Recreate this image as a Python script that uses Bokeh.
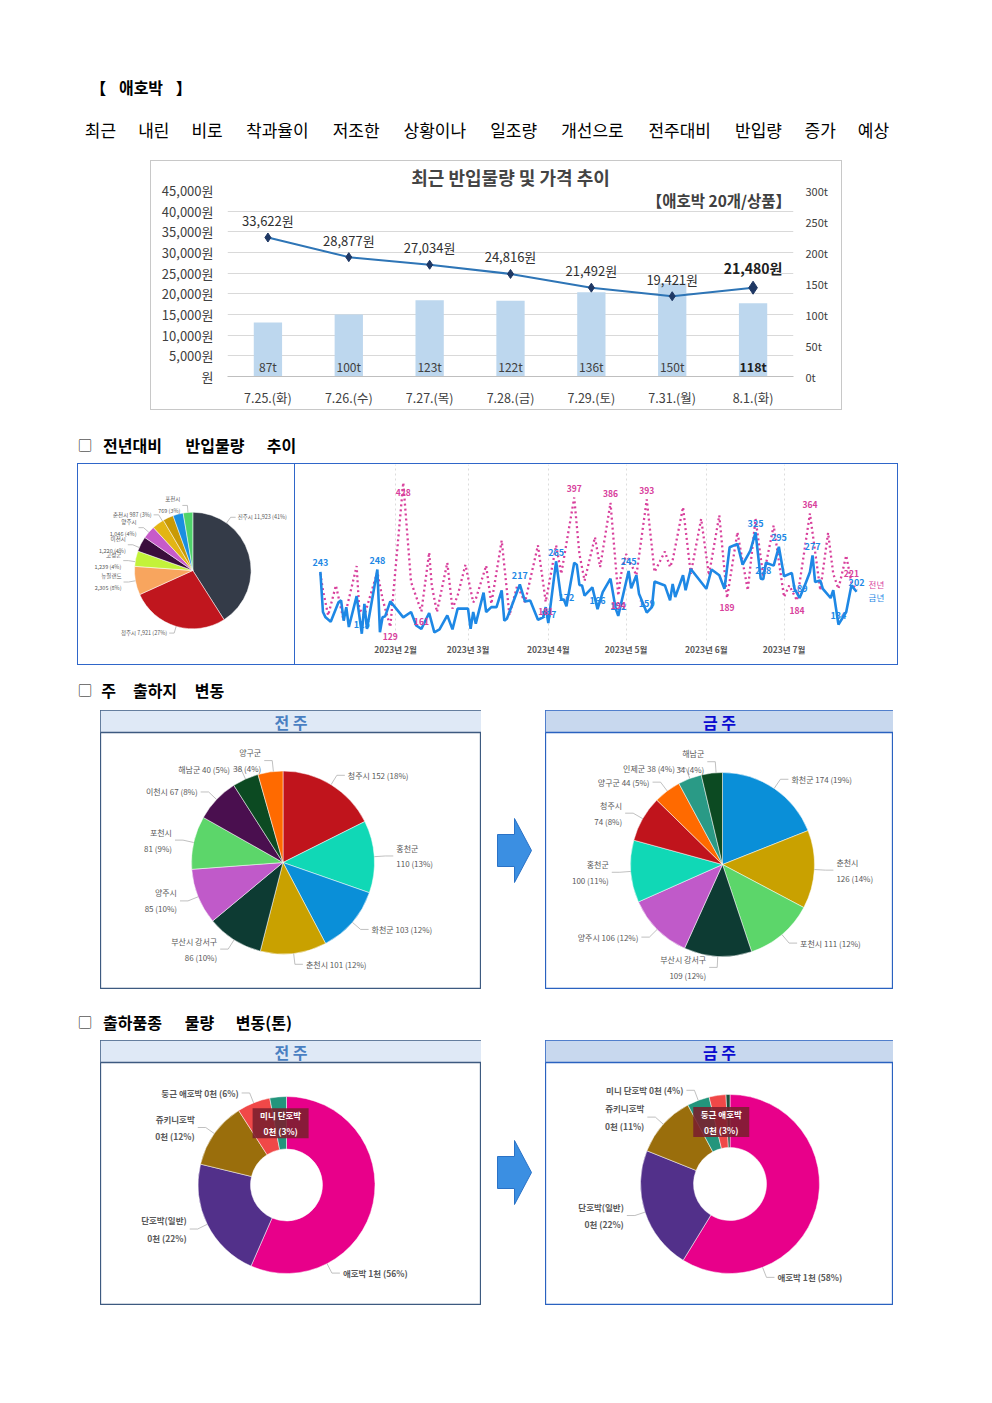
import numpy as np
from bokeh.plotting import figure
from bokeh.models import Range1d, LinearAxis, FixedTicker, ColumnDataSource, Spacer, Label, Title
from bokeh.layouts import column, row
from bokeh.core.properties import value
from bokeh.embed import file_html
from bokeh.resources import INLINE

FONT = "Noto Sans CJK KR"

# ------------------------------------------------------------------ data
HEADER_TITLE = "【 애호박 】"
HEADER_TEXT = "최근 내린 비로 착과율이 저조한 상황이나 일조량 개선으로 전주대비 반입량 증가 예상"

COMBO_TITLE = "최근 반입물량 및 가격 추이"
COMBO_NOTE = "【애호박 20개/상품】"
COMBO_DATES = ["7.25.(화)", "7.26.(수)", "7.27.(목)", "7.28.(금)", "7.29.(토)", "7.31.(월)", "8.1.(화)"]
COMBO_VOLUME_T = [87, 100, 123, 122, 136, 150, 118]
COMBO_PRICE_WON = [33622, 28877, 27034, 24816, 21492, 19421, 21480]
PRICE_TICKS = [0, 5000, 10000, 15000, 20000, 25000, 30000, 35000, 40000, 45000]
VOLUME_TICKS = [0, 50, 100, 150, 200, 250, 300]

SECTION_TITLES = ["▢ 전년대비 반입물량 추이", "▢ 주 출하지 변동", "▢ 출하품종 물량 변동(톤)"]

ORIGIN_NAMES = ["진주시", "청주시", "뉴질랜드", "고성군", "이천시", "양주시", "춘천시", "", "", "포천시"]
ORIGIN_VALUES = [11923, 7921, 2305, 1239, 1220, 1046, 987, 850, 830, 769]

MONTH_TICKS = [31, 59, 90, 120, 151, 181]          # day of year (0 = 1 Jan)
MONTH_LABELS = ["2023년 2월", "2023년 3월", "2023년 4월", "2023년 5월", "2023년 6월", "2023년 7월"]
SERIES_NAMES = ["전년", "금년"]

THIS_YEAR_DAY = [2, 3, 4, 6, 9, 10, 11, 12, 13, 16, 18, 19, 20, 24, 25, 26, 27, 29, 34, 37, 39, 41,
                 44, 46, 48, 51, 53, 55, 59, 60, 61, 62, 65, 66, 68, 70, 72, 73, 74, 79, 81, 83, 86,
                 88, 89, 90, 93, 95, 96, 97, 100, 101, 102, 103, 104, 107, 109, 111, 114, 116, 117,
                 121, 122, 124, 125, 128, 130, 131, 135, 137, 138, 139, 142, 143, 145, 151, 153, 156,
                 158, 160, 163, 165, 168, 170, 172, 173, 174, 177, 179, 181, 184, 185, 187, 189, 191,
                 192, 193, 195, 196, 199, 200, 202, 205, 207, 209]
THIS_YEAR_T = [243, 160, 149, 140, 180, 184, 142, 170, 129, 193, 115, 177, 125, 248, 118, 149, 151, 182,
               149, 160, 132, 125, 158, 118, 124, 153, 124, 167, 167, 125, 160, 136, 200, 160, 170, 170,
               205, 142, 146, 217, 182, 184, 144, 149, 170, 137, 265, 186, 186, 172, 262, 258, 216, 215,
               194, 211, 166, 201, 229, 167, 152, 245, 209, 236, 198, 159, 170, 223, 215, 184, 218, 191,
               236, 205, 249, 208, 248, 236, 208, 294, 301, 258, 287, 325, 229, 228, 262, 256, 295, 234,
               241, 209, 189, 215, 243, 277, 222, 225, 208, 189, 205, 134, 160, 215, 202]
THIS_YEAR_LABEL_DAYS = [2, 18, 24, 79, 90, 93, 97, 109, 117, 121, 128, 170, 173, 179, 187, 192, 202, 209]

LAST_YEAR_DAY = [2, 3, 5, 8, 11, 16, 17, 19, 24, 26, 29, 34, 37, 41, 44, 45, 47, 51, 53, 55, 58, 61, 62,
                 66, 68, 72, 75, 78, 81, 86, 89, 93, 95, 100, 102, 104, 108, 110, 114, 117, 118, 120,
                 124, 128, 131, 135, 137, 138, 142, 145, 149, 152, 156, 159, 163, 167, 170, 173, 177,
                 181, 183, 186, 191, 195, 198, 200, 202, 205, 207, 209]
LAST_YEAR_T = [240, 205, 153, 215, 142, 255, 167, 153, 243, 187, 129, 428, 222, 161, 283, 215, 160, 262,
               167, 194, 258, 180, 187, 256, 177, 308, 153, 215, 180, 298, 181, 298, 239, 397, 280, 225,
               315, 253, 386, 194, 236, 280, 236, 393, 243, 285, 253, 267, 377, 239, 353, 236, 360, 189,
               325, 205, 353, 232, 339, 191, 215, 184, 364, 205, 324, 239, 208, 277, 221, 205]
LAST_YEAR_LABEL_DAYS = [29, 34, 41, 89, 100, 114, 117, 128, 159, 186, 191, 207]
LAST_YEAR_LABEL_BELOW = [True, True, True, True, False, False, True, False, True, True, False, False]

PANEL_TITLES = ["전 주", "금 주"]
PREV_WEEK_NAMES = ["청주시", "홍천군", "화천군", "춘천시", "부산시 강서구", "양주시", "포천시", "이천시", "해남군", "양구군"]
PREV_WEEK_VALUES = [152, 110, 103, 101, 86, 85, 81, 67, 40, 38]
THIS_WEEK_NAMES = ["화천군", "춘천시", "포천시", "부산시 강서구", "양주시", "홍천군", "청주시", "양구군", "인제군", "해남군"]
THIS_WEEK_VALUES = [174, 126, 111, 109, 106, 100, 74, 44, 38, 34]

VARIETY_PREV_NAMES = ["애호박", "단호박(일반)", "쥬키니호박", "둥근 애호박", "미니 단호박"]
VARIETY_PREV_SHARE = [56, 22, 12, 6, 3]
VARIETY_PREV_AMOUNT = ["1천", "0천", "0천", "0천", "0천"]
VARIETY_THIS_NAMES = ["애호박", "단호박(일반)", "쥬키니호박", "미니 단호박", "둥근 애호박", ""]
VARIETY_THIS_SHARE = [58, 22, 11, 4, 3, 0.7]
VARIETY_THIS_AMOUNT = ["1천", "0천", "0천", "0천", "0천", ""]

# ------------------------------------------------------------------ styles
ORIGIN_COLORS = ["#343b48", "#c0161e", "#f8a55e", "#c3f23a", "#3a0d3c", "#c75bc9", "#e3b514",
                 "#c99a06", "#1a8fe0", "#4fd36a"]
REGION_COLORS = {"청주시": "#c0141c", "홍천군": "#10d8b6", "화천군": "#0a8fd8", "춘천시": "#c9a100",
                 "부산시 강서구": "#0d3b33", "양주시": "#c05ac9", "포천시": "#5cd66a", "이천시": "#4a0f4f",
                 "해남군": "#0c4a22", "양구군": "#ff6a00", "인제군": "#2a9a86"}
VARIETY_COLORS = {"애호박": "#e8008a", "단호박(일반)": "#52308a", "쥬키니호박": "#9a6e0c",
                  "둥근 애호박": "#f04848", "미니 단호박": "#23957c", "": "#1d4d3a"}
PREV_BREAK = [False, True, False, False, True, True, True, False, False, True]
THIS_BREAK = [False, True, False, True, False, True, True, False, False, True]


def blank(w, h):
    p = figure(width=w, height=h, x_range=Range1d(0, w), y_range=Range1d(h, 0),
               output_backend="svg", toolbar_location=None, min_border=0,
               x_axis_location=None, y_axis_location=None)
    p.grid.visible = False
    p.outline_line_color = None
    p.background_fill_color = None
    p.border_fill_color = None
    return p


def txt(p, x, y, s, size, color="#000000", bold=False, align="left"):
    p.text(x=[x], y=[y], text=[s], text_font=value(FONT), text_font_size=f"{size}px",
           text_color=color, text_font_style="bold" if bold else "normal",
           text_align=align, text_baseline="middle")


def word_width(w, fs):
    t = 0.0
    for ch in w:
        if "\uac00" <= ch <= "\ud7a3":
            t += fs
        elif ch in "()":
            t += 0.35 * fs
        else:
            t += 0.6 * fs
    return t


def justify(p, words, x0, x1, y, fs, bold=False):
    widths = [word_width(w, fs) for w in words]
    gap = (x1 - x0 - sum(widths)) / max(1, len(words) - 1)
    x = x0
    for w, wd in zip(words, widths):
        txt(p, x + wd / 2, y, w, fs, bold=bold, align="center")
        x += wd + gap


def section(h, title, x_end, y):
    # layout coordinates are page coordinates minus the 8px page margin
    p = blank(976, h)
    mark, rest = title.split(" ", 1)
    txt(p, 70, y, mark, 13, bold=True)
    justify(p, rest.split(" "), 92, x_end - 8, y, 16, bold=True)
    return p


def hline(w, color):
    return Spacer(width=w, height=1, styles={"background-color": color})


def vline(h, color):
    return Spacer(width=1, height=h, styles={"background-color": color})


def plain_axis(ax, size, standoff, color="#404040"):
    ax.major_tick_line_color = None
    ax.minor_tick_line_color = None
    ax.major_tick_out = 0
    ax.major_tick_in = 0
    ax.minor_tick_out = 0
    ax.major_label_text_font = FONT
    ax.major_label_text_font_size = size
    ax.major_label_text_color = color
    ax.major_label_standoff = standoff


# ------------------------------------------------------------------ header
header = blank(976, 152)
justify(header, HEADER_TITLE.split(" "), 85, 180, 78, 16, bold=True)
justify(header, HEADER_TEXT.split(" "), 75, 882, 121, 17)

# ------------------------------------------------------------------ combo chart
combo = figure(width=690, height=248, x_range=Range1d(0, 7), y_range=Range1d(0, 45000),
               output_backend="svg", toolbar_location=None,
               min_border_left=76, min_border_right=48, min_border_top=27, min_border_bottom=31)
combo.outline_line_color = None
combo.xgrid.visible = False
combo.ygrid.grid_line_color = "#d9d9d9"
combo.yaxis.ticker = FixedTicker(ticks=PRICE_TICKS)
combo.yaxis.major_label_overrides = {v: (f"{v:,}원" if v else "원") for v in PRICE_TICKS}
xs = [i + 0.5 for i in range(len(COMBO_DATES))]
combo.xaxis.ticker = FixedTicker(ticks=xs)
combo.xaxis.major_label_overrides = {x: d for x, d in zip(xs, COMBO_DATES)}
plain_axis(combo.yaxis[0], "13px", 14)
plain_axis(combo.xaxis[0], "12.5px", 11)
combo.yaxis.axis_line_color = None
combo.xaxis.axis_line_color = "#bfbfbf"
combo.extra_y_ranges = {"vol": Range1d(0, 300)}
rax = LinearAxis(y_range_name="vol", ticker=FixedTicker(ticks=VOLUME_TICKS),
                 major_label_overrides={v: f"{v}t" for v in VOLUME_TICKS})
plain_axis(rax, "11px", 12)
rax.axis_line_color = None
combo.add_layout(rax, "right")
combo.add_layout(Title(text=COMBO_TITLE, align="center", text_font=FONT, text_font_size="18px",
                       text_font_style="bold", standoff=1), "above")

combo.vbar(x=xs, top=COMBO_VOLUME_T, width=0.35, y_range_name="vol", fill_color="#bdd7ee",
           line_color=None)
vol_txt = [f"{v}t" for v in COMBO_VOLUME_T]
combo.text(x=xs[:-1], y=[0] * (len(xs) - 1), text=vol_txt[:-1], y_range_name="vol", y_offset=-10,
           text_align="center", text_baseline="middle", text_font=value(FONT),
           text_font_size="12px", text_color="#404040")
combo.text(x=xs[-1:], y=[0], text=vol_txt[-1:], y_range_name="vol", y_offset=-10,
           text_align="center", text_baseline="middle", text_font=value(FONT),
           text_font_size="12.5px", text_color="#202020", text_font_style="bold")
combo.line(xs, COMBO_PRICE_WON, line_color="#2e75b6", line_width=2)
combo.scatter(xs[:-1], COMBO_PRICE_WON[:-1], marker="diamond", size=9, fill_color="#1f3864",
              line_color="#1f3864")
combo.scatter(xs[-1:], COMBO_PRICE_WON[-1:], marker="diamond", size=13, fill_color="#1f3864",
              line_color="#1f3864")
price_txt = [f"{v:,}원" for v in COMBO_PRICE_WON]
combo.text(x=xs[:-1], y=COMBO_PRICE_WON[:-1], text=price_txt[:-1], y_offset=-17,
           text_align="center", text_baseline="middle", text_font=value(FONT),
           text_font_size="13px", text_color="#303030")
combo.text(x=xs[-1:], y=COMBO_PRICE_WON[-1:], text=price_txt[-1:], y_offset=-20,
           text_align="center", text_baseline="middle", text_font=value(FONT),
           text_font_size="14px", text_color="#202020", text_font_style="bold")
combo.add_layout(Label(x=6.97, y=42700, text=COMBO_NOTE, text_align="right", text_baseline="middle",
                       text_font=FONT, text_font_size="15.5px", text_font_style="bold",
                       text_color="#404040"))
GRAY = "#c8c8c8"
combo_box = column(hline(692, GRAY), row(vline(248, GRAY), combo, vline(248, GRAY)), hline(692, GRAY))

# ------------------------------------------------------------------ pies


def pie_panel(w, h, cx, cy, R, values, colors, labels, fracs, r_in=0.0, fs=8.0, bold=False,
              elbow=1.12, hlen=8, gap=3, border="#3d5a80", header=None, header_fill=None,
              header_color=None, tooltip=None, line_h=1.45, frame_h=None, bottom=0):
    fh = frame_h if frame_h else h
    p = figure(width=w, height=h, x_range=Range1d(-cx, w - cx), y_range=Range1d(cy - fh, cy),
               output_backend="svg", toolbar_location=None, min_border=0,
               min_border_bottom=bottom, x_axis_location=None, y_axis_location=None)
    p.grid.visible = False
    p.outline_line_color = border
    p.outline_line_width = 1.3
    p.background_fill_color = "white"
    vals = np.asarray(values, float)
    share = vals / vals.sum()
    cum = np.concatenate([[0.0], np.cumsum(share)])
    src = ColumnDataSource(dict(start=np.pi / 2 - 2 * np.pi * cum[:-1],
                                end=np.pi / 2 - 2 * np.pi * cum[1:], color=colors))
    if r_in:
        p.annular_wedge(x=0, y=0, inner_radius=r_in, outer_radius=R, start_angle="start",
                        end_angle="end", direction="clock", fill_color="color",
                        line_color="white", line_width=0.5, source=src)
    else:
        p.wedge(x=0, y=0, radius=R, start_angle="start", end_angle="end", direction="clock",
                fill_color="color", line_color="white", line_width=0.5, source=src)
    lx, ly = [], []
    items = {"left": ([], [], []), "right": ([], [], [])}
    for i, lab in enumerate(labels):
        if not lab:
            continue
        th = 2 * np.pi * (cum[i] + fracs[i] * share[i])
        sx, sy = np.sin(th), np.cos(th)
        d = 1 if sx >= 0 else -1
        x2, y2 = elbow * R * sx, elbow * R * sy
        lx.append([R * sx, x2, x2 + d * hlen])
        ly.append([R * sy, y2, y2])
        key = "left" if d > 0 else "right"
        items[key][0].append(x2 + d * (hlen + gap))
        items[key][1].append(y2)
        items[key][2].append(lab)
    if lx:
        p.multi_line(lx, ly, line_color="#b0b0b0", line_width=0.8)
    for align, (tx, ty, tt) in items.items():
        if tx:
            p.text(x=tx, y=ty, text=tt, text_align=align, text_baseline="middle",
                   text_font=value(FONT), text_font_size=f"{fs}px", text_color="#595959",
                   text_font_style="bold" if bold else "normal", text_line_height=line_h)
    if tooltip is not None:
        i, ttxt = tooltip
        th = 2 * np.pi * (cum[i] + 0.5 * share[i])
        tx, ty = 0.70 * R * np.sin(th), 0.70 * R * np.cos(th)
        p.rect(x=[tx], y=[ty], width=56, height=30, fill_color="#7a1f2e", fill_alpha=0.88,
               line_color=None)
        p.text(x=[tx], y=[ty], text=[ttxt], text_align="center", text_baseline="middle",
               text_font=value(FONT), text_font_size="8.5px", text_color="white",
               text_font_style="bold", text_line_height=1.35)
    if header:
        p.quad(left=[-cx], right=[w - cx], top=[cy], bottom=[cy - 22], fill_color=header_fill,
               line_color=None)
        p.segment(x0=[-cx], x1=[w - cx], y0=[cy - 22], y1=[cy - 22], line_color=border,
                  line_width=1.3)
        p.text(x=[w / 2 - cx], y=[cy - 11.5], text=[header], text_align="center",
               text_baseline="middle", text_font=value(FONT), text_font_size="16px",
               text_color=header_color, text_font_style="bold")
    return p


def region_labels(names, values, breaks):
    tot = sum(values)
    out = []
    for n, v, b in zip(names, values, breaks):
        pct = round(v / tot * 100)
        out.append(f"{n}\n{v:,} ({pct}%)" if b else f"{n} {v:,} ({pct}%)")
    return out


# small origin pie
otot = sum(ORIGIN_VALUES)
o_break = [False, False, True, True, True, True, False, False, False, True]
o_labels = []
for n, v, b in zip(ORIGIN_NAMES, ORIGIN_VALUES, o_break):
    if not n:
        o_labels.append("")
        continue
    pct = round(v / otot * 100)
    o_labels.append(f"{n}\n{v:,} ({pct}%)" if b else f"{n} {v:,} ({pct}%)")
o_fracs = [0.24, 0.5, 0.5, 0.3, 0.25, 0.5, 0.9, 0.5, 0.5, 0.5]
spie = pie_panel(216, 200, 114.3, 106, 58.3, ORIGIN_VALUES, ORIGIN_COLORS, o_labels, o_fracs,
                 fs=5.5, elbow=1.12, hlen=5, gap=2, border=None, line_h=1.5,
                 frame_h=176, bottom=24)

# line chart
lc = figure(width=602, height=200, x_range=Range1d(-7.6, 224.8), y_range=Range1d(101, 465.4),
            output_backend="svg", toolbar_location=None, y_axis_location=None,
            min_border_left=0, min_border_right=0, min_border_top=0, min_border_bottom=24)
lc.outline_line_color = None
lc.xaxis.ticker = FixedTicker(ticks=MONTH_TICKS)
lc.xaxis.major_label_overrides = dict(zip(MONTH_TICKS, MONTH_LABELS))
plain_axis(lc.xaxis[0], "8.5px", 2, color="#595959")
lc.xaxis.axis_line_color = None
lc.xaxis.major_label_text_font_style = "bold"
lc.xgrid.grid_line_color = "#dcdcdc"
lc.xgrid.grid_line_dash = "2 3"
lc.ygrid.visible = False

PINK = "#d8409c"
BLUE = "#1e88e5"
lc.line(LAST_YEAR_DAY, LAST_YEAR_T, line_color=PINK, line_width=2.3, line_dash="2 3")
lc.line(THIS_YEAR_DAY, THIS_YEAR_T, line_color=BLUE, line_width=2.6)
ty_map = dict(zip(THIS_YEAR_DAY, THIS_YEAR_T))
ly_map = dict(zip(LAST_YEAR_DAY, LAST_YEAR_T))
lc.text(x=THIS_YEAR_LABEL_DAYS, y=[ty_map[d] for d in THIS_YEAR_LABEL_DAYS],
        text=[str(ty_map[d]) for d in THIS_YEAR_LABEL_DAYS], y_offset=-9, text_align="center",
        text_baseline="middle", text_font=value(FONT), text_font_size="9px",
        text_color=BLUE, text_font_style="bold")
for below in (True, False):
    ds = [d for d, b in zip(LAST_YEAR_LABEL_DAYS, LAST_YEAR_LABEL_BELOW) if b == below]
    lc.text(x=ds, y=[ly_map[d] for d in ds], text=[str(ly_map[d]) for d in ds],
            y_offset=10 if below else -9, text_align="center", text_baseline="middle",
            text_font=value(FONT), text_font_size="8.5px", text_color=PINK,
            text_font_style="bold")
lc.text(x=[LAST_YEAR_DAY[-1]], y=[LAST_YEAR_T[-1]], text=[SERIES_NAMES[0]], x_offset=12,
        y_offset=-6, text_align="left", text_baseline="middle", text_font=value(FONT),
        text_font_size="8.5px", text_color=PINK)
lc.text(x=[THIS_YEAR_DAY[-1]], y=[THIS_YEAR_T[-1]], text=[SERIES_NAMES[1]], x_offset=12,
        y_offset=5, text_align="left", text_baseline="middle", text_font=value(FONT),
        text_font_size="8.5px", text_color=BLUE)
BLUE_BOX = "#2f66c9"
trend_box = column(hline(821, BLUE_BOX),
                   row(vline(200, BLUE_BOX), spie, vline(200, BLUE_BOX), lc, vline(200, BLUE_BOX)),
                   hline(821, BLUE_BOX))

# region pies
prev_fr = [0.5] * len(PREV_WEEK_VALUES)
prev_fr[-1] = 0.62
this_fr = [0.5] * len(THIS_WEEK_VALUES)
this_fr[-1] = 0.7
pie1 = pie_panel(381, 279, 182.5, 152, 91.5, PREV_WEEK_VALUES,
                 [REGION_COLORS[n] for n in PREV_WEEK_NAMES],
                 region_labels(PREV_WEEK_NAMES, PREV_WEEK_VALUES, PREV_BREAK),
                 prev_fr, border="#3d5a80", header=PANEL_TITLES[0],
                 header_fill="#dfe9f6", header_color="#4a7fc1")
pie2 = pie_panel(348, 279, 177, 154, 92, THIS_WEEK_VALUES,
                 [REGION_COLORS[n] for n in THIS_WEEK_NAMES],
                 region_labels(THIS_WEEK_NAMES, THIS_WEEK_VALUES, THIS_BREAK),
                 this_fr, border="#2a62c0", header=PANEL_TITLES[1],
                 header_fill="#c8d8ee", header_color="#0a0ad0")

# variety donuts


def variety_labels(names, shares, amounts, breaks, tip_idx):
    out = []
    for i, (n, s, a, b) in enumerate(zip(names, shares, amounts, breaks)):
        if not n or i == tip_idx:
            out.append("")
            continue
        out.append(f"{n}\n{a} ({s}%)" if b else f"{n} {a} ({s}%)")
    return out


vp_tip = 4
vt_tip = 4
d1 = pie_panel(381, 265, 186, 144.5, 88.5, VARIETY_PREV_SHARE,
               [VARIETY_COLORS[n] for n in VARIETY_PREV_NAMES],
               variety_labels(VARIETY_PREV_NAMES, VARIETY_PREV_SHARE, VARIETY_PREV_AMOUNT,
                              [False, True, True, False, False], vp_tip),
               [0.75, 0.5, 0.5, 0.5, 0.5], r_in=36, fs=8.5, bold=True, border="#3d5a80",
               header=PANEL_TITLES[0], header_fill="#dfe9f6", header_color="#4a7fc1",
               tooltip=(vp_tip, f"{VARIETY_PREV_NAMES[vp_tip]}\n{VARIETY_PREV_AMOUNT[vp_tip]} ({VARIETY_PREV_SHARE[vp_tip]}%)"))
d2 = pie_panel(348, 265, 184.5, 143.5, 89.5, VARIETY_THIS_SHARE,
               [VARIETY_COLORS[n] for n in VARIETY_THIS_NAMES],
               variety_labels(VARIETY_THIS_NAMES, VARIETY_THIS_SHARE, VARIETY_THIS_AMOUNT,
                              [False, True, True, False, False, False], vt_tip),
               [0.75, 0.5, 0.5, 0.5, 0.5, 0.5], r_in=36.5, fs=8.5, bold=True, border="#2a62c0",
               header=PANEL_TITLES[1], header_fill="#c8d8ee", header_color="#0a0ad0",
               tooltip=(vt_tip, f"{VARIETY_THIS_NAMES[vt_tip]}\n{VARIETY_THIS_AMOUNT[vt_tip]} ({VARIETY_THIS_SHARE[vt_tip]}%)"))

# arrows (decoration)
ARROW_X = [16, 33, 33, 50, 33, 33, 16]
ARROW_DY = [-16, -16, -32, 0, 32, 16, 16]


def arrow_fig(h, yc):
    p = blank(64, h)
    p.patch(ARROW_X, [yc + d for d in ARROW_DY], fill_color="#3b8fe2", line_color="#2a72c6",
            line_width=1)
    return p


arr1 = arrow_fig(279, 140)
arr2 = arrow_fig(265, 132)

t1 = section(53, SECTION_TITLES[0], 297, 34)
t2 = section(45, SECTION_TITLES[1], 225, 24)
t3 = section(51, SECTION_TITLES[2], 293, 32)

main = column(
    header,
    row(Spacer(width=142, height=250), combo_box),
    t1,
    row(Spacer(width=69, height=202), trend_box),
    t2,
    row(Spacer(width=92, height=279), pie1, arr1, pie2),
    t3,
    row(Spacer(width=92, height=265), d1, arr2, d2),
)
layout = column(Spacer(width=984, height=8), row(Spacer(width=8, height=10), main))

open("out.html", "w").write(file_html(layout, INLINE))
